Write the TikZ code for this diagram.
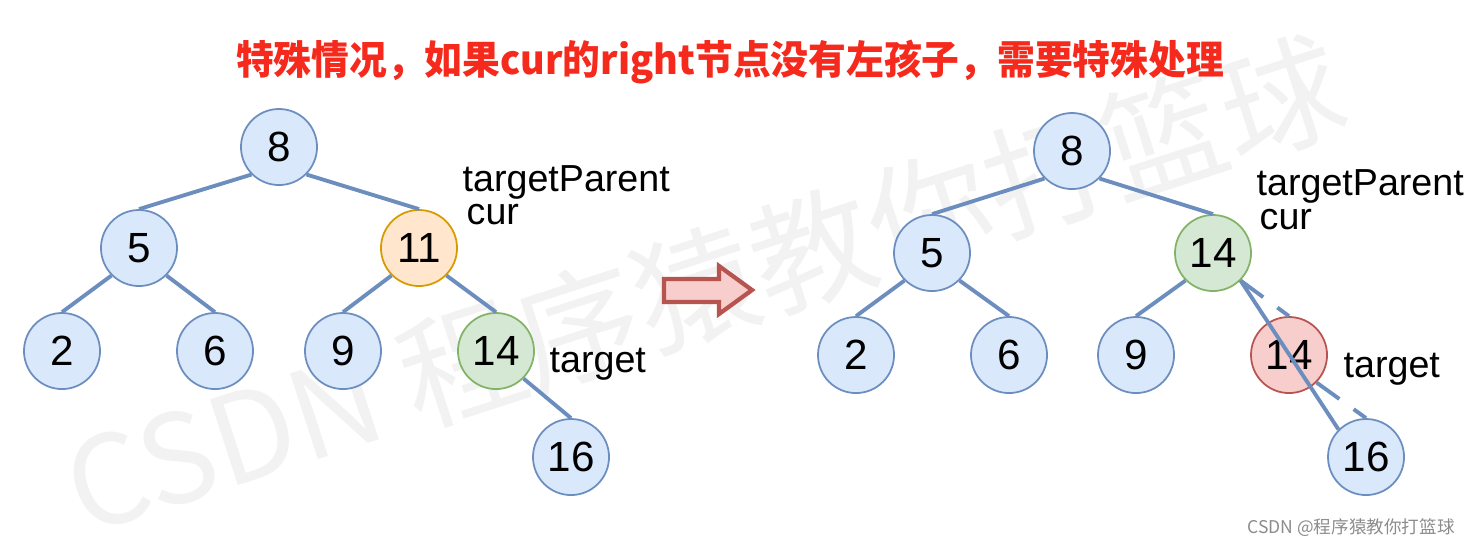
\documentclass[tikz,border=0pt]{standalone}
\usepackage{fontspec}
\setmainfont{Liberation Sans}
\newfontfamily\cjk{Noto Sans CJK SC}
\newfontfamily\cjktitle{Noto Sans CJK SC}[FakeStretch=0.95]
\definecolor{edgeblue}{HTML}{6C8EBF}
\definecolor{fillblue}{HTML}{DAE8FC}
\definecolor{filloran}{HTML}{FFE6CC}
\definecolor{draworan}{HTML}{D79B00}
\definecolor{fillgreen}{HTML}{D5E8D4}
\definecolor{drawgreen}{HTML}{82B366}
\definecolor{fillred}{HTML}{F8CECC}
\definecolor{drawred}{HTML}{B85450}
\definecolor{titlered}{HTML}{F5291C}
\begin{document}
\begin{tikzpicture}[x=0.01cm, y=-0.01cm,
  tnode/.style={circle, draw=edgeblue, fill=fillblue, line width=0.5pt, minimum size=0.76cm, inner sep=0pt, font=\fontsize{12}{13}\selectfont},
  curnode/.style={tnode, draw=draworan, fill=filloran},
  tgtnode/.style={tnode, draw=drawgreen, fill=fillgreen},
  delnode/.style={tnode, draw=drawred, fill=fillred},
  tedge/.style={draw=edgeblue, line width=1.1pt},
  lbl/.style={anchor=base west, inner sep=0pt, font=\fontsize{10.7}{12}\selectfont}]
  \useasboundingbox (0,0) rectangle (1477,547);
  % watermarks
  \node[rotate=18, text=black!5, font=\cjk\fontsize{35}{38}\selectfont] (wm) at (705,285) {CSDN 程序猿教你打篮球};
  \node[anchor=east, text=black!45, font=\cjk\fontsize{5}{6}\selectfont] (wmsmall) at (1467,528) {CSDN @程序猿教你打篮球};
  % title
  \node[text=titlered, font=\cjktitle\bfseries\fontsize{11.3}{13}\selectfont] (title) at (730,62) {特殊情况，如果cur的right节点没有左孩子，需要特殊处理};

  % left tree
  \node[tnode] (l8) at (279,147) {8};
  \node[tnode] (l5) at (139,248) {5};
  \node[curnode] (l11) at (419,248) {11};
  \node[tnode] (l2) at (62,351) {2};
  \node[tnode] (l6) at (215,351) {6};
  \node[tnode] (l9) at (343,351) {9};
  \node[tgtnode] (l14) at (496,351) {14};
  \node[tnode] (l16) at (571,457) {16};
  \draw[tedge] (l8.south west) -- (l5.north);
  \draw[tedge] (l8.south east) -- (l11.north);
  \draw[tedge] (l5.south west) -- (l2.north);
  \draw[tedge] (l5.south east) -- (l6.north);
  \draw[tedge] (l11.south west) -- (l9.north);
  \draw[tedge] (l11.south east) -- (l14.north);
  \draw[tedge] (l14.south east) -- (l16.north);
  \node[lbl] (lpar) at (462,191) {targetParent};
  \node[lbl] (lcur) at (466,224) {cur};
  \node[lbl] (ltgt) at (549,372) {target};

  % arrow
  \draw[draw=drawred, fill=fillred, line width=1.2pt, line join=miter]
    (664,279) -- (719,279) -- (719,266) -- (752,290) -- (719,314) -- (719,302) -- (664,302) -- cycle;

  % right tree
  \node[tnode] (r8) at (1072,151) {8};
  \node[tnode] (r5) at (932,253) {5};
  \node[tgtnode] (r14) at (1213,253) {14};
  \node[tnode] (r2) at (856,355) {2};
  \node[tnode] (r6) at (1009,355) {6};
  \node[tnode] (r9) at (1136,355) {9};
  \node[delnode] (rdel) at (1289,355) {14};
  \node[tnode] (r16) at (1366,457) {16};
  \draw[tedge] (r8.south west) -- (r5.north);
  \draw[tedge] (r8.south east) -- (r14.north);
  \draw[tedge] (r5.south west) -- (r2.north);
  \draw[tedge] (r5.south east) -- (r6.north);
  \draw[tedge] (r14.south west) -- (r9.north);
  \draw[tedge, dash pattern=on 8pt off 5pt] (r14.south east) -- (rdel.north);
  \draw[tedge, dash pattern=on 8pt off 5pt] (rdel.south east) -- (r16.north);
  \draw[tedge] (r14.south east) -- (r16.north west);
  \node[lbl] (rpar) at (1256,195) {targetParent};
  \node[lbl] (rcur) at (1259,229) {cur};
  \node[lbl] (rtgt) at (1343,377) {target};
\end{tikzpicture}
\end{document}
